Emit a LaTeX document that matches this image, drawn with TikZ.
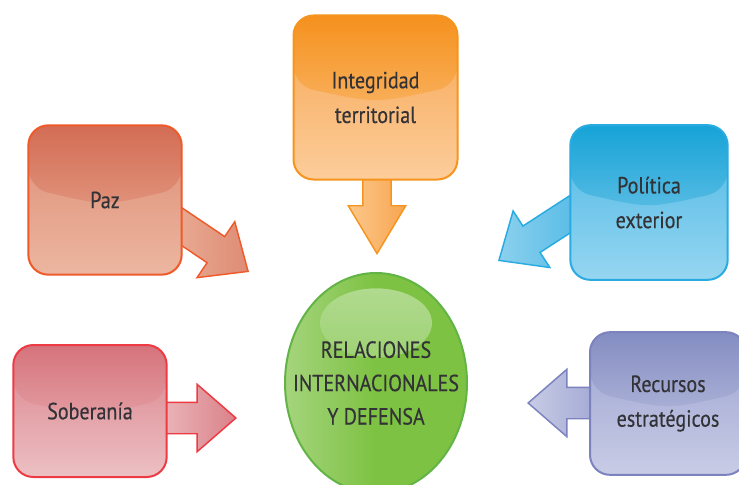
\documentclass[tikz,border=0pt]{standalone}
\usepackage{fontspec}
\setmainfont{PT Sans}[FakeStretch=0.86, FakeBold=0.4]
\usepackage{tikz}
\usetikzlibrary{shapes.geometric, shapes.arrows, calc}

\definecolor{txtgray}{RGB}{50, 50, 55}
\definecolor{pazline}{RGB}{239, 90, 42}
\definecolor{paztop}{RGB}{211, 108, 84}
\definecolor{pazlight}{RGB}{236, 178, 155}
\definecolor{pazmid}{RGB}{222, 140, 116}
\definecolor{pazbot}{RGB}{236, 182, 160}
\definecolor{intline}{RGB}{247, 148, 29}
\definecolor{inttop}{RGB}{245, 145, 30}
\definecolor{intlight}{RGB}{252, 200, 140}
\definecolor{intmid}{RGB}{247, 165, 80}
\definecolor{intbot}{RGB}{252, 205, 155}
\definecolor{polline}{RGB}{41, 171, 226}
\definecolor{poltop}{RGB}{22, 163, 215}
\definecolor{pollight}{RGB}{140, 208, 238}
\definecolor{polmid}{RGB}{74, 183, 228}
\definecolor{polbot}{RGB}{150, 214, 241}
\definecolor{sobline}{RGB}{238, 58, 67}
\definecolor{sobtop}{RGB}{214, 115, 124}
\definecolor{soblight}{RGB}{237, 190, 193}
\definecolor{sobmid}{RGB}{218, 130, 138}
\definecolor{sobbot}{RGB}{236, 192, 196}
\definecolor{recline}{RGB}{124, 130, 190}
\definecolor{rectop}{RGB}{132, 141, 194}
\definecolor{reclight}{RGB}{200, 204, 230}
\definecolor{recmid}{RGB}{155, 162, 208}
\definecolor{recbot}{RGB}{200, 204, 230}
\definecolor{hubline}{RGB}{98, 180, 70}
\definecolor{hubgreen}{RGB}{125, 194, 66}
\definecolor{hublight}{RGB}{180, 220, 148}
\definecolor{hubside}{RGB}{165, 212, 125}

\tikzset{
  topicbox/.style={rounded corners=15pt, line width=1.5pt, align=center, text=txtgray,
    font=\fontsize{17.5}{26}\selectfont},
  gloss/.style n args={5}{draw=#1, top color=#4, bottom color=#5,
    path picture={
      \shade[top color=#2, bottom color=#3]
        (path picture bounding box.north west) -- (path picture bounding box.north east)
        -- ($(path picture bounding box.east)+(0,-12)$)
        .. controls ($(path picture bounding box.center)+(0,6)$) .. ($(path picture bounding box.west)+(0,-12)$)
        -- cycle;
    }},
  fatarrow/.style n args={3}{shape=single arrow, draw=#1, left color=#2, right color=#3,
    line width=1.1pt, inner xsep=0pt, inner ysep=11.25pt, minimum width=0pt,
    single arrow head extend=13.5pt, single arrow tip angle=82, single arrow head indent=0pt},
  hub/.style={ellipse, draw=hubline, line width=1.5pt, minimum width=136.5pt, minimum height=165pt,
    left color=hubside, right color=hubgreen, middle color=hubgreen,
    path picture={
      \shade[top color=hublight, bottom color=hubgreen]
        ($(path picture bounding box.center)+(0,-60)$) ellipse [x radius=42pt, y radius=26pt];
    }},
  hubtext/.style={align=center, text=txtgray, font=\fontsize{17.5}{25}\selectfont}
}

\begin{document}
\begin{tikzpicture}[x=0.75pt, y=-0.75pt]
  \fill[white] (0,0) rectangle (739,485);
  \useasboundingbox (0,0) rectangle (739,485);

  % Arrow tips
  \coordinate (pazTip) at (249,272);
  \coordinate (intTip) at (377,255);
  \coordinate (polTip) at (498,261);
  \coordinate (sobTip) at (237,418);
  \coordinate (recTip) at (527,403);

  % Arrows
  \node[fatarrow={pazline}{pazlight}{pazmid}, rotate=-34, minimum height=75pt, anchor=tip] (pazArrow) at (pazTip) {};
  \node[fatarrow={intline}{intlight}{intmid}, rotate=-90, minimum height=71pt, anchor=tip,
    inner ysep=10pt, single arrow head extend=11pt, single arrow tip angle=62] (intArrow) at (intTip) {};
  \node[fatarrow={polline}{pollight}{polmid}, rotate=213, minimum height=80pt, anchor=tip] (polArrow) at (polTip) {};
  \node[fatarrow={sobline}{soblight}{sobmid}, rotate=0, minimum height=65pt, anchor=tip] (sobArrow) at (sobTip) {};
  \node[fatarrow={recline}{reclight}{recmid}, rotate=180, minimum height=62pt, anchor=tip] (recArrow) at (recTip) {};

  % Topic boxes
  \node[topicbox, gloss={pazline}{paztop}{pazlight}{pazmid}{pazbot}, minimum width=115pt, minimum height=112pt] (paz) at (105,200) {Paz};
  \node[topicbox, gloss={intline}{inttop}{intlight}{intmid}{intbot}, minimum width=123pt, minimum height=123pt] (integridad) at (375.5,97.5) {Integridad\\territorial};
  \node[topicbox, gloss={polline}{poltop}{pollight}{polmid}{polbot}, minimum width=118pt, minimum height=116pt] (politica) at (649,202.5) {Política\\exterior};
  \node[topicbox, gloss={sobline}{sobtop}{soblight}{sobmid}{sobbot}, minimum width=115pt, minimum height=99pt] (soberania) at (90,411) {Soberanía};
  \node[topicbox, gloss={recline}{rectop}{reclight}{recmid}{recbot}, minimum width=117pt, minimum height=107pt] (recursos) at (668,403.5) {Recursos\\estratégicos};

  % Center
  \node[hub] (hub) at (376,383) {};
  \node[hubtext] (hubText) at (hub.center) {RELACIONES\\INTERNACIONALES\\Y DEFENSA};
\end{tikzpicture}
\end{document}
